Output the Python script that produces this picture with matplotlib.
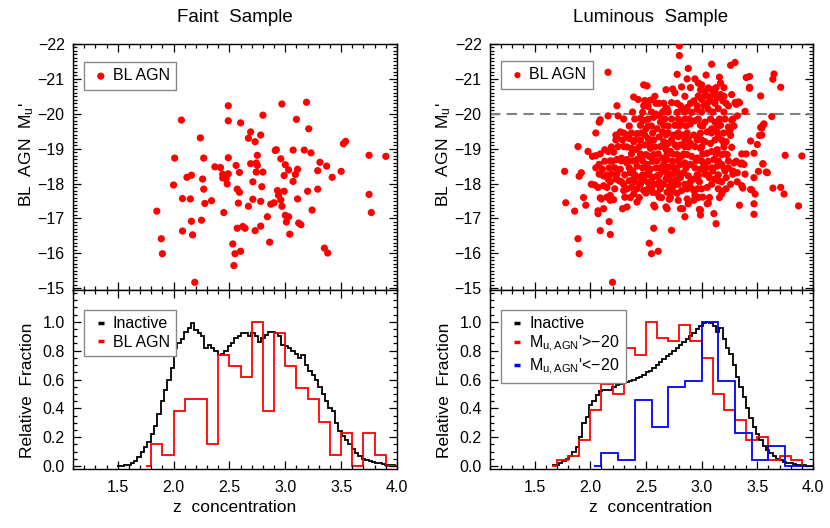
import numpy as np
import matplotlib
matplotlib.use('Agg')
import matplotlib.pyplot as plt
from matplotlib.ticker import MultipleLocator
from matplotlib.lines import Line2D

plt.rcParams['font.family'] = ['Liberation Sans', 'DejaVu Sans']
plt.rcParams['mathtext.fontset'] = 'custom'
plt.rcParams['mathtext.rm'] = 'Liberation Sans'
plt.rcParams['mathtext.it'] = 'Liberation Sans'
plt.rcParams['mathtext.bf'] = 'Liberation Sans:bold'

# ---------------- data ----------------
faint_x = [1.85, 1.89, 1.90, 2.19, 2.07, 2.01, 2.00, 2.08, 2.15, 2.12,
           2.16, 2.16, 2.08, 2.17, 2.24, 2.27, 2.26, 2.27, 2.28, 2.25,
           2.34, 2.37, 2.42, 2.44, 2.44, 2.47, 2.49, 2.48, 2.45, 2.49,
           2.49, 2.49, 2.56, 2.59, 2.57, 2.59, 2.58, 2.60, 2.57, 2.62,
           2.64, 2.53, 2.55, 2.60, 2.54, 2.67, 2.71, 2.71, 2.69, 2.69,
           2.67, 2.73, 2.78, 2.80, 2.75, 2.74, 2.75, 2.74, 2.80, 2.79,
           2.78, 2.73, 2.78, 2.84, 2.86, 2.87, 2.90, 2.93, 2.94, 2.96,
           2.97, 2.99, 3.00, 3.03, 3.01, 2.91, 2.92, 2.96, 3.00, 2.99,
           3.03, 2.97, 3.10, 3.07, 3.09, 3.11, 3.07, 3.11, 3.12, 3.14,
           3.04, 3.19, 3.21, 3.17, 3.23, 3.20, 3.24, 3.29, 3.29, 3.31,
           3.37, 3.42, 3.50, 3.52, 3.54, 3.35, 3.38, 3.75, 3.77, 3.75,
           3.90]
faint_y = [-17.21, -16.42, -15.99, -15.17, -19.82, -18.73, -17.96, -17.57, -17.56, -18.18,
           -18.24, -16.92, -16.64, -16.53, -19.31, -18.73, -18.13, -17.84, -17.43, -16.95,
           -17.51, -18.48, -18.46, -18.27, -18.16, -18.14, -18.28, -17.99, -17.17, -20.23,
           -19.80, -18.74, -18.52, -18.32, -17.84, -17.75, -17.44, -19.74, -16.72, -16.77,
           -16.72, -16.27, -15.99, -16.06, -15.65, -17.35, -17.55, -18.05, -18.57, -19.48,
           -19.30, -19.20, -19.39, -19.96, -18.81, -18.59, -18.52, -18.33, -18.33, -17.91,
           -17.49, -16.65, -16.78, -17.05, -16.32, -17.41, -17.45, -17.80, -17.66, -17.53,
           -17.35, -17.78, -17.09, -17.05, -16.90, -18.95, -18.97, -18.71, -18.54, -18.23,
           -18.39, -20.28, -19.84, -18.96, -18.26, -18.41, -18.06, -17.56, -16.87, -16.82,
           -16.55, -20.33, -19.57, -18.96, -18.88, -17.78, -17.24, -17.84, -18.37, -18.61,
           -18.50, -18.18, -18.35, -19.14, -19.21, -16.15, -16.01, -17.69, -17.17, -18.81,
           -18.78]

# luminous sample: individually read points (outskirts and core)
lum_x = [2.80, 2.80, 2.16, 2.88, 3.09, 3.26, 3.30, 2.78, 2.94, 3.04,
         3.16, 2.97, 3.00, 2.82, 2.87, 3.17, 3.40, 3.43, 3.65, 3.64,
         3.71, 3.43, 2.48, 2.51, 2.68, 2.74, 2.76, 2.39, 2.43, 2.49,
         2.54, 2.62, 2.73, 2.48, 2.52, 2.67, 2.69, 2.24, 2.16, 2.25,
         2.30, 2.09, 2.08, 2.05, 1.89, 1.77, 1.78, 1.86, 1.89, 1.90,
         2.20, 1.94, 1.96, 1.90, 1.92, 1.98, 2.02, 2.05, 2.01, 2.04,
         2.07, 2.09, 2.07, 2.07, 2.09, 2.17, 2.18, 2.13, 2.16, 2.21,
         2.23, 2.24, 2.13, 2.08, 2.08, 2.12, 2.12, 2.15, 2.18, 2.15,
         2.10, 2.18, 2.21, 2.19, 2.24, 2.27, 2.23, 2.26, 2.25, 2.30,
         2.24, 2.28, 2.33, 2.33, 2.30, 2.30, 2.29, 2.33, 2.31, 2.36,
         2.38, 2.35, 2.39, 2.37, 2.39, 2.42, 2.33, 2.35, 2.39, 2.42,
         2.37, 2.41, 2.44, 2.42, 2.45, 2.42, 2.47, 2.45, 2.48, 2.45,
         2.48, 2.50, 2.47, 2.45, 2.48, 2.45, 2.50, 2.49, 2.52, 2.53,
         2.49, 2.54, 2.50, 2.53, 2.57, 2.56, 2.51, 2.54, 2.59, 2.51,
         2.56, 2.60, 2.52, 2.57, 2.62, 2.52, 2.56, 2.60, 2.57, 2.58,
         2.62, 2.57, 2.53, 2.55, 2.61, 2.68, 2.69, 2.71, 2.73, 2.59,
         2.59, 2.57, 2.62, 2.63, 2.66, 2.60, 2.65, 2.68, 2.62, 2.66,
         2.70, 2.63, 2.68, 2.72, 2.65, 2.69, 2.74, 2.66, 2.71, 2.75,
         2.65, 2.69, 2.74, 2.78, 2.68, 2.72, 2.77, 2.81, 2.66, 2.71,
         2.75, 2.79, 2.69, 2.74, 2.78, 2.82, 2.79, 2.81, 2.85, 2.83,
         2.87, 2.88, 2.93, 2.94, 2.85, 2.90, 2.93, 2.84, 2.88, 2.93,
         2.97, 2.81, 2.85, 2.90, 2.94, 2.99, 2.78, 2.82, 2.87, 2.91,
         2.96, 2.76, 2.81, 2.85, 2.90, 2.94, 2.99, 2.75, 2.79, 2.83,
         2.88, 2.93, 2.97, 2.76, 2.81, 2.85, 2.90, 2.94, 2.99, 2.78,
         2.82, 2.87, 2.81, 2.91, 2.96, 2.93, 2.97, 3.00, 2.96, 3.02,
         3.06, 3.08, 3.11, 3.14, 3.17, 3.09, 3.12, 3.06, 3.03, 2.99,
         3.19, 3.15, 3.24, 3.27, 3.30, 3.33, 3.39, 3.53, 3.63, 3.32,
         3.27, 3.24, 3.25, 3.22, 3.20, 3.27, 3.44, 3.54, 3.55, 3.54,
         3.56, 3.50, 3.47, 3.40, 3.36, 3.55, 3.58, 3.51, 3.47, 3.38,
         3.36, 3.39, 3.36, 3.37, 3.45, 3.48, 3.47, 3.47, 3.34, 3.64,
         3.71, 3.74, 3.87, 3.75, 3.90, 3.13, 3.11, 3.18, 3.19, 3.06,
         2.99, 2.98, 3.01, 3.05, 3.09, 3.12, 3.07, 3.03, 3.10, 3.14,
         3.18, 3.02, 3.06, 3.11, 3.05, 3.09, 3.14, 3.18, 3.03, 3.08,
         3.12, 3.15, 3.05, 3.09, 3.14, 3.03, 3.08, 3.12, 3.17, 3.21,
         3.21, 3.24, 3.28, 3.28, 3.29, 3.31, 3.23, 3.26, 3.22, 3.15,
         2.17, 2.11, 2.20, 2.16, 2.12, 2.23, 2.27,
         3.26, 3.26, 3.28, 3.34, 3.31, 3.43, 3.52, 3.53,
         3.55, 3.59, 3.35, 3.32, 3.44, 2.99, 3.05,
         # dense core
         2.36, 2.44, 2.64, 2.72, 2.97, 3.07, 3.16,
         2.22, 2.33, 2.42, 2.55, 2.63, 2.87, 2.96, 3.00, 3.15, 3.22,
         2.18, 2.28, 2.40, 2.46, 2.62, 2.75, 2.90, 2.98, 3.18, 3.32,
         2.15, 2.31, 2.40, 2.47, 2.53, 2.62, 2.71, 2.80, 2.96, 3.06, 3.15,
         2.05, 2.22, 2.35, 2.51, 2.63, 2.69, 2.77, 2.86, 3.04, 3.09, 3.20,
         2.18, 2.28, 2.38, 2.47, 2.60, 2.79, 2.95, 3.00, 3.15, 3.24,
         2.09, 2.37, 2.45, 2.61, 2.69, 2.74, 2.84, 3.01, 3.13, 3.21,
         2.19, 2.33, 2.58, 2.67, 2.78, 2.88, 3.00, 3.20,
         2.29, 2.40, 2.45, 2.57, 2.73, 2.85, 2.96, 3.00, 3.18,
         2.30, 2.37, 2.46, 2.56, 2.70, 2.79, 2.87, 2.99, 3.09, 3.20,
         2.35, 2.52, 2.55, 2.70, 2.80, 2.86, 3.01, 3.14, 3.29,
         2.40, 2.52, 2.67, 2.73, 2.79, 2.89, 2.97, 3.16,
         2.38, 2.55, 2.65, 2.70, 2.85, 3.00, 3.10, 3.20,
         2.66, 2.78, 2.90, 3.05, 3.12, 3.22,
         2.58, 2.85, 3.02, 3.06, 3.20,
         2.90, 3.13, 3.20]
lum_y = [-21.95, -21.67, -21.19, -21.30, -21.42, -21.39, -21.47, -21.13, -21.00, -21.11,
         -21.05, -20.88, -20.83, -20.77, -21.00, -20.88, -21.04, -21.07, -21.14, -20.99,
         -20.76, -20.76, -20.83, -20.80, -20.69, -20.71, -20.60, -20.48, -20.41, -20.38,
         -20.39, -20.30, -20.32, -20.23, -20.21, -20.11, -20.15, -20.23, -19.94, -19.94,
         -19.85, -19.83, -19.76, -19.45, -19.06, -18.35, -17.45, -17.21, -16.42, -15.99,
         -15.17, -17.60, -17.38, -18.21, -18.31, -18.92, -18.78, -18.80, -17.98, -17.96,
         -17.89, -17.59, -17.22, -17.14, -16.65, -16.91, -16.54, -18.97, -18.92, -18.90,
         -19.39, -19.34, -18.64, -18.55, -18.27, -18.22, -17.94, -17.89, -17.66, -17.61,
         -17.56, -17.52, -17.54, -18.27, -18.27, -18.41, -18.13, -18.08, -19.06, -19.06,
         -18.69, -18.73, -18.69, -18.59, -17.98, -17.80, -17.28, -17.33, -17.61, -18.31,
         -18.36, -18.08, -18.13, -17.89, -17.70, -17.47, -19.39, -19.29, -19.20, -19.43,
         -19.01, -18.98, -19.06, -18.69, -18.73, -18.50, -18.45, -18.19, -18.13, -17.98,
         -17.80, -17.73, -20.04, -19.87, -19.81, -19.67, -19.57, -19.39, -19.29, -19.15,
         -19.11, -19.01, -18.83, -18.78, -18.83, -18.64, -18.55, -18.41, -18.45, -18.27,
         -18.17, -18.22, -18.03, -17.98, -17.94, -17.85, -17.75, -17.72, -17.38, -17.33,
         -17.61, -16.72, -16.29, -15.99, -16.06, -17.33, -17.28, -17.55, -16.66, -20.30,
         -19.99, -19.90, -19.95, -19.76, -19.67, -19.57, -19.48, -19.40, -19.34, -19.20,
         -19.15, -19.06, -18.97, -18.92, -18.73, -18.69, -18.64, -18.55, -18.47, -18.45,
         -18.36, -18.29, -18.27, -18.36, -18.13, -18.08, -18.10, -18.17, -17.98, -17.91,
         -17.94, -17.98, -17.75, -17.78, -17.72, -17.80, -17.52, -17.28, -17.05, -17.28,
         -17.56, -17.42, -17.52, -17.66, -17.98, -17.89, -17.80, -18.31, -18.22, -18.13,
         -18.22, -18.55, -18.59, -18.55, -18.45, -18.41, -18.83, -18.78, -18.83, -18.78,
         -18.73, -19.11, -19.11, -19.06, -19.15, -19.06, -19.01, -19.39, -19.34, -19.39,
         -19.29, -19.39, -19.34, -19.67, -19.76, -19.85, -19.71, -19.80, -19.67, -20.04,
         -20.13, -20.18, -20.23, -20.04, -20.13, -20.37, -20.51, -20.41, -20.23, -20.23,
         -20.13, -20.37, -20.55, -20.46, -20.55, -20.69, -20.60, -20.74, -20.65, -20.69,
         -20.37, -20.15, -20.23, -20.55, -20.32, -20.34, -20.07, -20.51, -19.92, -19.94,
         -19.81, -19.62, -19.48, -19.20, -19.15, -19.04, -19.22, -19.39, -19.67, -19.59,
         -19.71, -19.12, -18.87, -18.85, -18.85, -18.57, -18.33, -18.35, -18.17, -18.55,
         -18.59, -18.27, -17.94, -17.87, -17.82, -17.70, -17.42, -17.12, -17.38, -17.87,
         -17.89, -17.70, -17.36, -18.81, -18.79, -16.85, -17.14, -17.70, -17.78, -17.44,
         -17.10, -17.26, -17.61, -17.89, -17.98, -18.13, -18.17, -18.27, -18.36, -18.50,
         -18.55, -18.55, -18.64, -18.69, -18.87, -18.92, -18.97, -18.83, -19.20, -19.15,
         -19.25, -19.34, -19.48, -19.57, -19.48, -19.76, -19.85, -19.76, -19.67, -19.85,
         -18.36, -18.45, -18.36, -18.27, -18.59, -18.64, -18.83, -17.98, -18.17, -18.08,
         -18.45, -18.41, -18.64, -18.13, -17.28, -19.25, -19.48,
         -19.38, -19.57, -19.85, -20.32, -20.27, -20.73, -19.38, -19.61,
         -18.56, -18.31, -18.56, -18.31, -17.83, -17.24, -17.42,
         # dense core
         -17.60, -17.60, -17.60, -17.60, -17.60, -17.60, -17.60,
         -17.85, -17.85, -17.85, -17.85, -17.85, -17.85, -17.85, -17.85, -17.85, -17.85,
         -18.05, -18.05, -18.05, -18.05, -18.05, -18.05, -18.05, -18.05, -18.05, -18.05,
         -18.25, -18.25, -18.25, -18.25, -18.25, -18.25, -18.25, -18.25, -18.25, -18.25, -18.25,
         -18.45, -18.45, -18.45, -18.45, -18.45, -18.45, -18.45, -18.45, -18.45, -18.45, -18.45,
         -18.65, -18.65, -18.65, -18.65, -18.65, -18.65, -18.65, -18.65, -18.65, -18.65,
         -18.85, -18.85, -18.85, -18.85, -18.85, -18.85, -18.85, -18.85, -18.85, -18.85,
         -19.05, -19.05, -19.05, -19.05, -19.05, -19.05, -19.05, -19.05,
         -19.25, -19.25, -19.25, -19.25, -19.25, -19.25, -19.25, -19.25, -19.25,
         -19.45, -19.45, -19.45, -19.45, -19.45, -19.45, -19.45, -19.45, -19.45, -19.45,
         -19.65, -19.65, -19.65, -19.65, -19.65, -19.65, -19.65, -19.65, -19.65,
         -19.85, -19.85, -19.85, -19.85, -19.85, -19.85, -19.85, -19.85,
         -20.05, -20.05, -20.05, -20.05, -20.05, -20.05, -20.05, -20.05,
         -20.30, -20.30, -20.30, -20.30, -20.30, -20.30,
         -20.50, -20.50, -20.50, -20.50, -20.50,
         -20.75, -20.75, -20.75]
assert len(faint_x) == len(faint_y)
assert len(lum_x) == len(lum_y)

lum_cut = -20.0

# Inactive histograms (relative fraction), regular fine bins
inact_faint_start, inact_faint_w = 1.495, 0.03
inact_faint = [0.003, 0.004, 0.006,
               0.01, 0.02, 0.035, 0.06, 0.10, 0.13, 0.17, 0.22, 0.28, 0.36,
               0.45, 0.53, 0.60, 0.68, 0.82, 0.85, 0.88, 0.93, 0.96, 0.99,
               0.94, 0.92, 0.90, 0.82, 0.84, 0.82, 0.80, 0.77, 0.78, 0.80,
               0.83, 0.85, 0.89, 0.90, 0.92, 0.92, 0.90, 0.92, 0.90, 0.86,
               0.89, 0.91, 0.93, 0.93, 0.92, 0.90, 0.84, 0.83, 0.82, 0.80,
               0.78, 0.75, 0.77, 0.70, 0.66, 0.63, 0.60, 0.55, 0.50, 0.45,
               0.40, 0.38, 0.30, 0.24, 0.21, 0.18, 0.15, 0.12, 0.09, 0.07,
               0.05, 0.04, 0.035, 0.03, 0.025, 0.02, 0.015, 0.01, 0.008, 0.005,
               0.003]
inact_lum_start, inact_lum_w = 1.658, 0.03
inact_lum = [0.005, 0.01, 0.02, 0.035, 0.05, 0.07, 0.10, 0.13, 0.20, 0.30,
             0.34, 0.42, 0.45, 0.49, 0.52, 0.53, 0.53, 0.53, 0.55, 0.56,
             0.57, 0.58, 0.58, 0.59, 0.60, 0.61, 0.62, 0.63, 0.65, 0.66,
             0.68, 0.70, 0.72, 0.74, 0.76, 0.78, 0.80, 0.82, 0.84, 0.86,
             0.88, 0.90, 0.92, 0.95, 0.97, 0.99, 1.00, 0.99, 0.97, 0.93,
             0.96, 0.88, 0.82, 0.78, 0.70, 0.62, 0.55, 0.48, 0.40, 0.33,
             0.27, 0.22, 0.18, 0.14, 0.11, 0.09, 0.07, 0.05, 0.04, 0.03,
             0.025, 0.02, 0.015, 0.01, 0.008, 0.005, 0.003, 0.0]

# BL AGN histograms (counts per bin, normalised to peak)
bl_faint_edges = [1.75, 1.8, 1.9, 2.0, 2.1, 2.2, 2.3, 2.4, 2.5, 2.6, 2.7, 2.8,
                  2.9, 3.0, 3.1, 3.2, 3.3, 3.4, 3.5, 3.6, 3.7, 3.8, 3.9, 4.0]
bl_faint_counts = [0, 2, 1, 5, 6, 6, 2, 10, 9, 8, 13, 5, 12, 9, 7, 6, 4, 1, 3, 0, 3, 1, 0]

faint_lum_edges = [1.66, 1.7, 1.8, 1.9, 2.0, 2.1, 2.2, 2.3, 2.4, 2.5, 2.6, 2.7, 2.8,
                   2.9, 3.0, 3.1, 3.2, 3.3, 3.4, 3.5, 3.6, 3.7, 3.8, 3.9, 4.0]
faint_lum_counts = [0, 2, 3, 8, 17, 25, 22, 36, 34, 44, 39, 38, 43, 38, 33, 22, 17,
                    14, 8, 9, 2, 3, 2, 0]

bright_lum_edges = [2.03, 2.10, 2.25, 2.40, 2.55, 2.70, 2.85, 3.00, 3.15, 3.30,
                    3.45, 3.60, 3.75, 3.90, 4.0]
bright_lum_counts = [0, 2, 1, 10, 6, 12, 13, 22, 13, 5, 1, 3, 0, 0]

x_ticks = [1.5, 2.0, 2.5, 3.0, 3.5, 4.0]

# ---------------- figure ----------------
W, H = 830, 528
fig = plt.figure(figsize=(W / 100, H / 100), dpi=100)


def rect(x0, y0, x1, y1):
    return [x0 / W, 1 - y1 / H, (x1 - x0) / W, (y1 - y0) / H]


ax_ft = fig.add_axes(rect(73, 44, 397, 290))
ax_fb = fig.add_axes(rect(73, 290, 397, 469))
ax_lt = fig.add_axes(rect(490, 44, 813, 290))
ax_lb = fig.add_axes(rect(490, 290, 813, 469))

TICK_FS = 11.5
LAB_FS = 12.5
LEG_FS = 11.5


def style(ax, top_panel):
    ax.set_xlim(1.1, 4.0)
    ax.set_xticks(x_ticks)
    ax.xaxis.set_minor_locator(MultipleLocator(0.1))
    if top_panel:
        ax.set_ylim(-14.95, -22.0)
        ticks = np.arange(-22, -14, 1)
        ax.set_yticks(ticks)
        ax.set_yticklabels(['\u2212%d' % abs(t) for t in ticks])
        ax.yaxis.set_minor_locator(MultipleLocator(0.1))
    else:
        ax.set_ylim(-0.02, 1.22)
        ax.set_yticks([0.0, 0.2, 0.4, 0.6, 0.8, 1.0])
        ax.set_yticklabels(['0.0', '0.2', '0.4', '0.6', '0.8', '1.0'])
        ax.yaxis.set_minor_locator(MultipleLocator(0.05))
        ax.set_xticklabels(['1.5', '2.0', '2.5', '3.0', '3.5', '4.0'])
    ax.tick_params(which='both', direction='in', top=True, right=True,
                   labelsize=TICK_FS, width=0.9, colors='black')
    ax.tick_params(which='major', length=6)
    ax.tick_params(which='minor', length=3)
    ax.tick_params(axis='y', pad=6)
    ax.tick_params(axis='x', pad=8)
    if top_panel:
        ax.tick_params(labelbottom=False)
    for s in ax.spines.values():
        s.set_linewidth(1.0)


for a in (ax_ft, ax_lt):
    style(a, True)
for a in (ax_fb, ax_lb):
    style(a, False)

# scatter panels
ax_ft.scatter(faint_x, faint_y, s=27, color='#ff0000', edgecolors='none',
              label='BL AGN', zorder=3)
ax_lt.scatter(lum_x, lum_y, s=27, color='#ff0000', edgecolors='none',
              label='BL AGN', zorder=3)
ax_lt.axhline(lum_cut, color='#808080', lw=1.5, ls=(0, (5, 3)), zorder=2)

leg_kw = dict(loc='upper left', borderaxespad=0, frameon=True, fancybox=False,
              edgecolor='#888888', fontsize=LEG_FS, framealpha=1,
              borderpad=0.4, handlelength=1.3, handletextpad=0.1)
l1 = ax_ft.legend(bbox_to_anchor=(0.034, 0.927), scatterpoints=1,
                  markerscale=1.0, **leg_kw)
l2 = ax_lt.legend(bbox_to_anchor=(0.033, 0.931), scatterpoints=1,
                  markerscale=0.85, **leg_kw)
for l in (l1, l2):
    l.get_frame().set_linewidth(1.0)

# histogram panels
e_if = inact_faint_start + inact_faint_w * np.arange(len(inact_faint) + 1)
e_il = inact_lum_start + inact_lum_w * np.arange(len(inact_lum) + 1)
bl_f = np.array(bl_faint_counts, float) / max(bl_faint_counts)
fl = np.array(faint_lum_counts, float) / max(faint_lum_counts)
bl = np.array(bright_lum_counts, float) / max(bright_lum_counts)

ax_fb.stairs(inact_faint, e_if, color='black', lw=1.3, baseline=None)
ax_fb.stairs(bl_f, bl_faint_edges, color='#ff0000', lw=1.3, baseline=None)

ax_lb.stairs(inact_lum, e_il, color='black', lw=1.3, baseline=None)
ax_lb.stairs(fl, faint_lum_edges, color='#ff0000', lw=1.3, baseline=None)
ax_lb.stairs(bl, bright_lum_edges, color='#0000ff', lw=1.3, baseline=None)


def dash_handle(c):
    return Line2D([], [], color=c, marker='_', markersize=5, mew=2.5, ls='none')


h_in, h_red, h_blue = dash_handle('black'), dash_handle('#ff0000'), dash_handle('#0000ff')
l3 = ax_fb.legend([h_in, h_red], ['Inactive', 'BL AGN'],
                  bbox_to_anchor=(0.034, 0.888), labelspacing=0.2, **leg_kw)
l4 = ax_lb.legend([h_in, h_red, h_blue],
                  ['Inactive', "M$_{\\mathregular{u,AGN}}$'>\u221220",
                   "M$_{\\mathregular{u,AGN}}$'<\u221220"],
                  bbox_to_anchor=(0.033, 0.888), labelspacing=0.15, **leg_kw)
for l in (l3, l4):
    l.get_frame().set_linewidth(1.0)

# titles and axis labels
fig.text(235 / W, 1 - 18 / H, 'Faint  Sample', ha='center', va='center', fontsize=13.5)
fig.text(651 / W, 1 - 18 / H, 'Luminous  Sample', ha='center', va='center', fontsize=13.5)
for xc in (27, 444):
    fig.text(xc / W, 1 - 155 / H, "BL  AGN  M$_u$'", rotation=90, ha='center',
             va='center', fontsize=LAB_FS)
    fig.text(xc / W, 1 - 390 / H, 'Relative  Fraction', rotation=90, ha='center',
             va='center', fontsize=LAB_FS)
fig.text(235 / W, 1 - 507 / H, 'z  concentration', ha='center', va='center', fontsize=LAB_FS)
fig.text(651 / W, 1 - 507 / H, 'z  concentration', ha='center', va='center', fontsize=LAB_FS)

fig.savefig('out.png', dpi=100)
